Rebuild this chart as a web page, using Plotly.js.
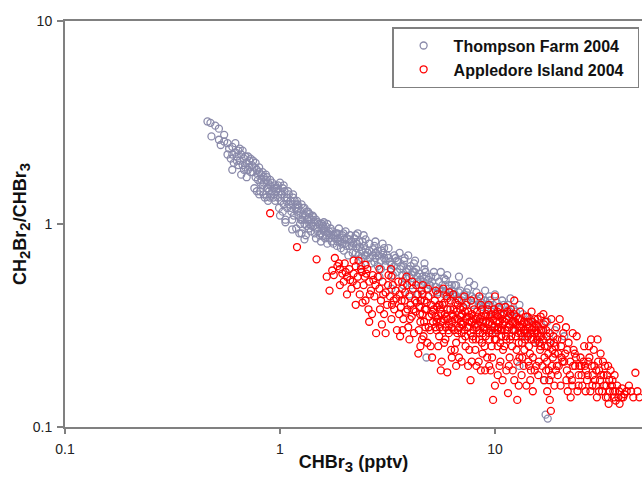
<!DOCTYPE html>
<html><head><meta charset="utf-8">
<script src="https://cdn.plot.ly/plotly-3.0.1.min.js"></script>
<style>html,body{margin:0;padding:0;background:#fff}#c{width:642px;height:477px}</style>
</head><body><div id="c"></div>
<script>
// Thompson Farm 2004 (grey)
const tfX = [0.46,0.475,0.50,0.52,0.48,0.55,0.53,
0.58,0.60,0.62,0.64,0.59,0.61,0.63,0.65,0.60,
0.66,0.68,0.70,0.72,0.67,0.69,0.71,0.74,0.73,0.70,0.66,
0.76,0.78,0.80,0.82,0.77,0.79,0.81,0.84,0.83,0.78,0.80,0.76,
0.86,0.88,0.90,0.92,0.87,0.89,0.91,0.94,0.93,0.88,0.85,0.95,
0.97,1.0,1.02,1.05,0.98,1.01,1.04,1.07,1.08,1.03,0.99,1.06,1.1,
1.12,1.15,1.18,1.2,1.13,1.16,1.22,1.25,1.27,1.24,1.14,1.19,1.26,1.28,1.21,
1.31,1.34,1.37,1.4,1.33,1.36,1.39,1.43,1.45,1.42,1.48,1.32,1.47,1.35,
1.52,1.56,1.6,1.64,1.54,1.58,1.62,1.67,1.7,1.74,1.66,1.55,1.72,1.78,1.6,
1.82,1.86,1.9,1.95,2.0,2.05,1.84,1.92,1.98,2.1,2.15,2.02,1.88,2.18,2.08,
2.22,2.28,2.35,2.42,2.5,2.25,2.32,2.4,2.48,2.56,2.62,2.3,2.45,2.6,2.38,2.66,
2.72,2.8,2.88,2.96,3.05,3.15,2.75,2.85,2.95,3.1,3.25,3.3,2.78,3.0,3.2,3.35,2.9,
3.45,3.55,3.65,3.78,3.9,4.05,3.5,3.7,3.85,4.0,4.15,3.6,3.95,4.1,3.75,
4.3,4.45,4.6,4.75,4.9,5.05,4.35,4.55,4.8,5.0,4.25,4.7,5.15,4.4,
5.3,5.5,5.7,5.9,6.1,6.3,5.4,5.8,6.2,5.6,6.0,6.4,
6.6,6.9,7.2,7.5,7.8,6.7,7.0,7.4,6.8,7.6,7.9,
8.2,8.6,9.0,9.4,9.8,10.2,8.4,8.8,9.2,9.6,8.0,9.0,10.0,
10.8,11.5,12.2,13.0,11.0,12.0,13.5,10.6,11.8,
14.5,15.5,16.5,14.0,17.5,19.0,16.0,18.0,17.2,17.6,21,
3.3,4.5,5.5,7.0,8.5,10,12,4.0,6.0,4.8,17,13,
0.62,0.64,0.67,0.69,0.72,0.75,0.77,0.79,0.82,0.84,0.86,0.88,0.9,0.92,0.94,0.96,0.98,0.57,0.63,0.73,
1.01,1.03,1.05,1.08,1.1,1.12,1.15,1.17,1.2,1.22,1.25,1.28,1.3,1.33,1.36,1.4,1.44,1.47,1.5,
1.53,1.57,1.61,1.65,1.69,1.73,1.77,1.8,1.85,1.9,1.94,1.99,2.04,2.1,2.16,2.2,2.27,2.34,2.4,2.46,
2.52,2.6,2.7,2.78,2.86,2.94,3.02,3.1,3.2,3.3,3.4,3.5,3.62,3.74,3.86,3.98,4.1,4.22,4.36,4.5,4.65,4.8,4.95,
5.1,5.3,5.5,5.7,5.9,6.1,6.3,6.5,6.8,7.1,7.4,7.7,8.0,8.3,8.7,9.1,9.5,9.9,10.4,11,11.7,12.5,
0.52,0.55,0.57,0.6,0.65,0.68,0.71,0.75,0.8,0.83,0.87,0.9,0.95,1.0,1.04,1.09,1.15,1.2,1.26,1.3,
1.37,1.43,1.5,1.58,1.66,1.75,1.85,1.97,2.12,2.25,2.5,2.75,3.05,3.4,3.8,4.2,4.7,5.2,5.8,6.5,
0.81,0.84,0.87,1.0,1.06,1.14,1.23,1.3];
const tfY = [3.2,3.15,3.05,2.95,2.7,2.75,2.45,
2.35,2.4,2.25,2.3,2.1,2.0,2.15,2.05,1.85,
2.2,2.1,2.0,2.05,1.95,1.9,1.85,1.95,1.8,1.7,1.75,
1.9,1.85,1.8,1.75,1.7,1.65,1.6,1.7,1.55,1.45,1.4,1.5,
1.65,1.6,1.55,1.6,1.5,1.45,1.4,1.5,1.35,1.3,1.35,1.55,
1.5,1.45,1.4,1.35,1.35,1.3,1.25,1.3,1.2,1.15,1.2,1.05,1.4,
1.3,1.25,1.2,1.15,1.15,1.1,1.1,1.15,1.05,1.0,1.05,0.95,0.9,1.2,1.25,
1.1,1.05,1.0,1.05,0.98,0.95,0.92,0.98,0.9,1.1,0.95,0.88,0.85,1.15,
1.0,0.95,0.92,0.97,0.9,0.87,0.85,0.9,0.85,0.82,0.8,0.82,0.95,0.88,1.02,
0.9,0.85,0.82,0.88,0.8,0.85,0.78,0.76,0.74,0.78,0.82,0.92,0.95,0.72,0.7,
0.85,0.8,0.77,0.82,0.75,0.72,0.7,0.68,0.7,0.72,0.68,0.9,0.88,0.8,0.62,0.64,
0.75,0.72,0.7,0.74,0.68,0.7,0.65,0.62,0.6,0.62,0.65,0.6,0.82,0.8,0.76,0.56,0.55,
0.68,0.65,0.62,0.66,0.6,0.62,0.58,0.56,0.54,0.55,0.58,0.72,0.7,0.5,0.5,
0.6,0.57,0.55,0.58,0.53,0.55,0.52,0.5,0.48,0.5,0.66,0.64,0.46,0.45,
0.55,0.52,0.5,0.53,0.48,0.5,0.46,0.45,0.44,0.58,0.56,0.45,
0.5,0.47,0.45,0.48,0.44,0.43,0.42,0.41,0.55,0.52,0.4,
0.46,0.43,0.42,0.44,0.4,0.41,0.4,0.39,0.38,0.37,0.5,0.47,0.45,
0.42,0.4,0.38,0.4,0.36,0.35,0.36,0.38,0.43,
0.34,0.32,0.3,0.28,0.33,0.3,0.26,0.27,0.115,0.11,0.28,
0.48,0.42,0.4,0.36,0.33,0.3,0.3,0.45,0.38,0.22,0.17,0.2,
2.5,1.95,2.3,2.15,1.9,1.8,2.0,1.75,1.65,1.6,1.75,1.5,1.65,1.45,1.4,1.45,1.55,2.2,2.05,2.1,
1.4,1.5,1.45,1.35,1.25,1.2,1.35,1.3,1.25,1.2,1.05,1.1,1.0,1.15,1.08,0.98,1.02,1.05,0.92,
0.88,1.0,0.95,0.88,0.92,0.88,0.8,0.85,0.9,0.86,0.8,0.84,0.78,0.84,0.78,0.8,0.76,0.82,0.74,0.78,
0.7,0.74,0.7,0.68,0.74,0.66,0.72,0.66,0.68,0.63,0.62,0.66,0.6,0.62,0.58,0.6,0.56,0.58,0.55,0.53,0.52,0.55,0.5,
0.52,0.49,0.48,0.47,0.46,0.5,0.47,0.45,0.46,0.44,0.46,0.42,0.43,0.42,0.41,0.4,0.42,0.38,0.39,0.4,0.37,0.37,
2.6,2.55,2.5,2.2,2.35,1.85,2.15,2.05,1.9,1.8,1.7,1.35,1.3,1.6,1.55,1.45,1.4,1.3,1.25,1.2,
1.12,1.08,1.02,0.98,1.0,0.92,0.82,0.9,0.88,0.88,0.84,0.78,0.76,0.7,0.68,0.64,0.6,0.58,0.54,0.5,
1.45,1.4,1.36,1.1,1.02,0.94,0.9,0.84];

// Appledore Island 2004 (red)
const aiX = [0.9,1.2,1.48,
1.7,1.75,1.8,1.85,1.9,1.95,2.0,2.05,2.1,2.15,2.2,1.98,
2.25,2.3,2.35,2.4,2.45,2.5,2.55,2.6,2.65,2.7,2.75,2.32,2.58,2.42,2.68,
2.85,2.9,2.95,3.0,3.05,3.1,3.15,3.2,3.25,3.3,3.35,3.4,3.45,2.8,3.1,2.98,3.28,3.38,
3.55,3.6,3.65,3.7,3.75,3.8,3.85,3.9,3.95,4.0,4.05,4.1,4.15,4.2,4.25,3.62,3.88,4.12,3.72,4.28,
4.35,4.4,4.45,4.5,4.55,4.6,4.65,4.7,4.75,4.8,4.85,4.9,4.95,5.0,5.05,5.1,5.15,4.42,4.62,4.88,5.02,4.58,
5.25,5.3,5.35,5.4,5.5,5.55,5.6,5.65,5.7,5.8,5.85,5.9,5.95,6.0,6.05,6.1,6.2,6.25,5.45,5.75,6.15,5.38,5.88,6.28,
6.35,6.45,6.55,6.6,6.7,6.8,6.9,7.0,7.1,7.2,7.3,7.4,7.5,6.4,6.75,7.05,7.35,6.95,7.55,6.5,7.25,
7.7,7.8,7.9,8.0,8.1,8.2,8.3,8.4,8.5,8.6,8.7,8.8,8.9,9.0,9.1,7.75,8.15,8.45,8.75,9.05,7.95,8.35,8.65,8.95,
9.3,9.4,9.5,9.6,9.7,9.8,9.9,10.0,10.1,10.2,10.3,10.4,10.5,10.6,10.7,10.8,10.9,9.35,9.65,10.15,10.45,10.75,9.55,10.85,9.95,10.35,
11.1,11.3,11.5,11.6,11.8,12.0,12.2,12.3,12.5,12.7,12.8,13.0,13.2,13.4,11.2,11.7,12.1,12.6,13.1,11.4,11.9,12.4,12.9,13.3,11.05,11.55,
13.6,13.8,14.0,14.2,14.4,14.6,14.8,15.0,15.2,15.4,15.6,15.8,16.0,16.2,16.4,13.9,14.3,14.7,15.1,15.5,15.9,14.1,16.3,13.7,
16.7,17.0,17.3,17.6,18.0,18.2,18.4,18.7,19.0,19.3,19.6,20.0,20.3,20.6,17.2,17.8,18.9,19.5,20.8,16.9,18.5,19.8,17.5,20.2,16.8,18.3,
21.2,21.6,22.0,22.4,22.8,23.2,23.6,24.0,24.5,25.0,25.5,26.0,26.5,21.8,23.0,24.2,25.8,22.5,26.8,21.4,
27.5,28.0,28.5,29.0,29.5,30.0,30.5,31.0,31.5,32.0,32.5,33.0,33.5,34.0,34.5,27.8,29.8,31.8,33.8,28.8,30.8,
35.5,36.0,36.5,37.0,37.5,38.0,39,40,42,44,45,46,47,35.2,
2.12,2.28,2.48,2.62,2.78,2.92,3.02,3.18,3.32,3.48,3.58,3.68,3.82,3.92,4.02,
4.18,4.32,4.48,4.52,4.68,4.72,4.82,4.92,5.08,5.2,5.28,5.42,5.52,5.62,5.72,5.82,5.92,6.02,6.12,6.22,6.32,6.42,6.52,6.62,6.72,6.82,6.92,7.02,
7.12,7.22,7.32,7.42,7.52,7.62,7.72,7.82,7.92,8.05,8.25,8.4,8.55,8.7,8.85,9.0,9.15,9.25,9.45,9.6,9.75,9.85,10.05,10.25,10.5,10.65,10.95,11.15,11.35,11.65,11.85,12.05,12.25,12.45,12.65,12.85,
13.05,13.25,13.45,13.65,13.85,14.05,14.25,14.5,14.75,14.95,15.25,15.45,15.7,15.95,16.15,16.45,16.75,17.05,17.4,17.7,18.1,18.6,19.1,19.7,20.4,
21.0,21.7,22.3,23.1,23.8,24.7,25.3,26.2,27.0,27.2,28.2,29.2,30.2,31.2,32.2,33.2,34.2,35.0,36.2,37.8,39.5,41,43,
5.6,6.6,7.8,8.6,9.4,10.3,11.3,12.3,13.6,14.6,15.3,16.6,17.9,12.9,10.0,15.0,
5.15,5.35,5.55,5.78,6.08,6.38,6.68,6.98,7.28,7.58,7.88,8.18,8.48,8.78,9.08,9.38,9.68,9.98,10.28,10.58,10.88,11.25,11.45,11.75,12.15,12.55,12.95,13.35,13.75,14.15,14.55,14.9,15.35,15.8,16.3,16.9,17.45,18.0,18.8,19.4,20.5,
6.3,7.0,7.6,8.2,9.2,10.6,11.6,12.7,13.4,14.4,16.0,17.3,18.3,19.2,21.5,22.9,24.5,26.4,28.4,30.5,32.8,35.8,38.8,33.6,29.6,25.2,23.5,27.4,
2.2,2.5,2.9,3.3,3.7,4.3,4.6,5.3,6.0,6.8,1.65,1.9,2.05,2.25,2.6,3.5,4.0,4.5,
1.78,1.88,2.02,2.18,2.38,2.52,2.72];
const aiY = [1.13,0.77,0.67,
0.47,0.59,0.68,0.62,0.6,0.57,0.64,0.55,0.6,0.48,0.57,0.52,
0.62,0.55,0.45,0.58,0.5,0.42,0.6,0.52,0.47,0.56,0.44,0.66,0.38,0.41,0.36,
0.55,0.48,0.42,0.52,0.36,0.46,0.4,0.56,0.44,0.34,0.5,0.38,0.47,0.29,0.29,0.32,0.6,0.42,
0.52,0.45,0.39,0.48,0.34,0.42,0.37,0.5,0.31,0.44,0.4,0.35,0.48,0.29,0.42,0.28,0.55,0.52,0.3,0.37,
0.45,0.23,0.39,0.33,0.47,0.36,0.28,0.42,0.31,0.38,0.26,0.44,0.35,0.3,0.4,0.22,0.33,0.3,0.5,0.48,0.25,0.27,
0.42,0.35,0.3,0.45,0.28,0.38,0.33,0.21,0.4,0.26,0.36,0.31,0.44,0.186,0.34,0.29,0.38,0.24,0.25,0.48,0.46,0.39,0.27,0.31,
0.36,0.3,0.41,0.26,0.34,0.22,0.38,0.29,0.32,0.44,0.25,0.35,0.2,0.45,0.3,0.27,0.4,0.35,0.31,0.24,0.37,
0.17,0.33,0.28,0.38,0.24,0.31,0.35,0.21,0.29,0.4,0.26,0.33,0.3,0.19,0.36,0.42,0.27,0.44,0.23,0.28,0.3,0.32,0.35,0.25,
0.32,0.27,0.35,0.3,0.22,0.136,0.38,0.44,0.29,0.33,0.25,0.31,0.2,0.36,0.28,0.34,0.24,0.4,0.25,0.27,0.39,0.3,0.19,0.17,0.31,0.35,
0.33,0.27,0.147,0.31,0.36,0.25,0.3,0.42,0.28,0.136,0.34,0.22,0.29,0.32,0.39,0.22,0.19,0.24,0.37,0.3,0.28,0.33,0.26,0.18,0.25,0.35,
0.3,0.27,0.16,0.33,0.25,0.29,0.37,0.22,0.31,0.26,0.2,0.34,0.28,0.24,0.3,0.35,0.21,0.19,0.27,0.32,0.18,0.29,0.35,0.24,
0.27,0.22,0.3,0.25,0.136,0.12,0.2,0.28,0.23,0.31,0.18,0.34,0.25,0.21,0.33,0.19,0.16,0.27,0.29,0.17,0.24,0.2,0.15,0.16,0.36,0.34,
0.23,0.19,0.26,0.21,0.17,0.24,0.2,0.28,0.18,0.22,0.16,0.25,0.19,0.15,0.29,0.15,0.21,0.14,0.17,0.31,
0.22,0.27,0.18,0.2,0.16,0.27,0.19,0.23,0.15,0.18,0.2,0.16,0.14,0.17,0.19,0.15,0.14,0.21,0.13,0.24,0.17,
0.15,0.18,0.135,0.16,0.14,0.13,0.155,0.145,0.16,0.14,0.185,0.15,0.14,0.17,
0.53,0.5,0.55,0.45,0.5,0.38,0.45,0.5,0.4,0.43,0.36,0.42,0.46,0.38,0.34,
0.38,0.41,0.36,0.42,0.33,0.38,0.41,0.31,0.36,0.38,0.31,0.34,0.4,0.36,0.3,0.41,0.35,0.38,0.32,0.42,0.33,0.38,0.34,0.37,0.4,0.31,0.33,0.36,
0.39,0.3,0.34,0.31,0.37,0.33,0.29,0.36,0.34,0.32,0.37,0.3,0.34,0.38,0.31,0.35,0.3,0.38,0.33,0.36,0.29,0.34,0.36,0.3,0.33,0.3,0.36,0.3,0.34,0.32,0.38,0.33,0.36,0.3,0.32,0.29,
0.34,0.31,0.28,0.33,0.3,0.32,0.28,0.31,0.27,0.33,0.29,0.3,0.27,0.31,0.26,0.28,0.3,0.25,0.28,0.23,0.26,0.22,0.25,0.23,0.22,
0.21,0.24,0.18,0.2,0.22,0.2,0.18,0.2,0.18,0.21,0.2,0.17,0.21,0.18,0.16,0.18,0.15,0.16,0.15,0.15,0.14,0.15,0.15,
0.19,0.2,0.21,0.19,0.2,0.18,0.19,0.17,0.2,0.17,0.19,0.2,0.17,0.16,0.16,0.15,
0.37,0.33,0.31,0.34,0.3,0.35,0.29,0.32,0.28,0.35,0.27,0.34,0.27,0.29,0.33,0.29,0.32,0.27,0.37,0.26,0.32,0.28,0.37,0.27,0.32,0.35,0.31,0.26,0.29,0.35,0.23,0.3,0.34,0.29,0.25,0.32,0.21,0.29,0.26,0.2,0.27,
0.22,0.21,0.24,0.2,0.22,0.21,0.2,0.21,0.22,0.2,0.21,0.19,0.18,0.19,0.17,0.16,0.16,0.15,0.16,0.15,0.14,0.14,0.14,0.2,0.19,0.2,0.23,0.25,
0.66,0.63,0.6,0.55,0.52,0.5,0.45,0.47,0.43,0.42,0.55,0.5,0.45,0.4,0.33,0.3,0.27,0.25,
0.56,0.64,0.58,0.52,0.6,0.57,0.53];

const seriesNames = ['Thompson Farm 2004', 'Appledore Island 2004'];
const xTicks = [0.1, 1, 10];
const yTicks = [0.1, 1, 10];

const FONT = 'Liberation Sans, Arial, sans-serif';
const mk = (c) => ({symbol: 'circle-open', size: 7, color: c, line: {color: c, width: 1.3}});
const traces = [
  {type: 'scatter', mode: 'markers', x: tfX, y: tfY, name: seriesNames[0] + '&nbsp;&nbsp;', marker: mk('rgb(138,138,170)')},
  {type: 'scatter', mode: 'markers', x: aiX, y: aiY, name: seriesNames[1] + '&nbsp;&nbsp;', marker: mk('rgb(255,0,0)')}
];
const axFont = {family: FONT, size: 14, color: '#222'};
const sub = (t) => '<sub><span style="font-size:15px">' + t + '</span></sub>';
const layout = {
  width: 642, height: 477,
  margin: {l: 65, r: 0, t: 21, b: 50},
  paper_bgcolor: '#fff', plot_bgcolor: '#fff',
  showlegend: true,
  legend: {x: 0.995, y: 0.985, xanchor: 'right', yanchor: 'top', bgcolor: '#fff',
    bordercolor: '#808080', borderwidth: 1.5, itemwidth: 50,
    font: {family: FONT, size: 16, color: '#111', weight: 'bold'}},
  xaxis: {type: 'log', range: [-1, 1.684], tickvals: xTicks, ticktext: xTicks.map(String),
    showgrid: false, zeroline: false, showline: true, linecolor: '#808080', linewidth: 2, mirror: true,
    ticks: 'outside', ticklen: 5, tickcolor: '#808080', tickwidth: 1.5, tickfont: axFont, ticklabelstandoff: 3,
    title: {text: '<b>CHBr' + sub('3') + ' (pptv)</b>', font: {family: FONT, size: 18, color: '#111'}, standoff: 0}},
  yaxis: {type: 'log', range: [-1, 1], tickvals: yTicks, ticktext: yTicks.map(String),
    showgrid: false, zeroline: false, showline: true, linecolor: '#808080', linewidth: 2,
    ticks: 'outside', ticklen: 6, tickcolor: '#808080', tickwidth: 1.5, tickfont: axFont, ticklabelstandoff: 2,
    title: {text: '<b>CH' + sub('2') + 'Br' + sub('2') + '/CHBr' + sub('3') + '</b>', font: {family: FONT, size: 18, color: '#111'}, standoff: 1}}
};
Plotly.newPlot('c', traces, layout, {displayModeBar: false, staticPlot: true});
</script></body></html>
